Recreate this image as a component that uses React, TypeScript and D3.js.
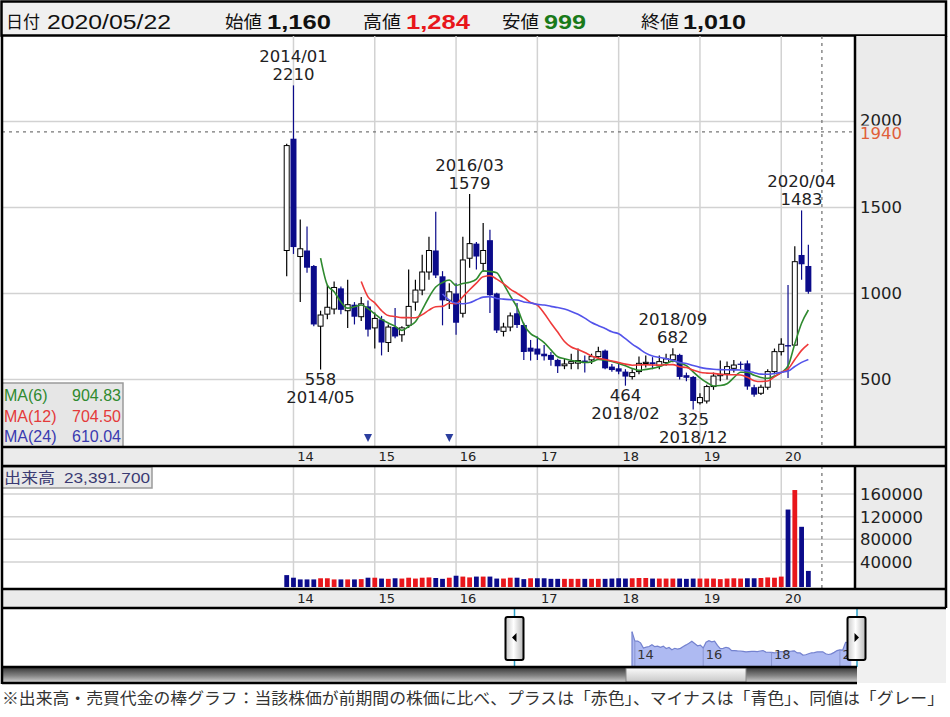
import React from "react";
import * as d3 from "d3";

// ---------- DATA ----------
const months = [
  "2013/12",
  "2014/01","2014/02","2014/03","2014/04","2014/05","2014/06","2014/07","2014/08","2014/09","2014/10","2014/11","2014/12",
  "2015/01","2015/02","2015/03","2015/04","2015/05","2015/06","2015/07","2015/08","2015/09","2015/10","2015/11","2015/12",
  "2016/01","2016/02","2016/03","2016/04","2016/05","2016/06","2016/07","2016/08","2016/09","2016/10","2016/11","2016/12",
  "2017/01","2017/02","2017/03","2017/04","2017/05","2017/06","2017/07","2017/08","2017/09","2017/10","2017/11","2017/12",
  "2018/01","2018/02","2018/03","2018/04","2018/05","2018/06","2018/07","2018/08","2018/09","2018/10","2018/11","2018/12",
  "2019/01","2019/02","2019/03","2019/04","2019/05","2019/06","2019/07","2019/08","2019/09","2019/10","2019/11","2019/12",
  "2020/01","2020/02","2020/03","2020/04","2020/05",
];
const opens = [
  1250,
  1900,1215,1250,1160,810,880,910,1030,900,935,865,925,
  800,850,715,805,760,815,950,1020,1125,1250,1100,960,
  1000,885,1205,1290,1175,1310,1000,780,805,885,817,685,
  680,650,643,614,580,594,595,610,614,633,668,575,
  565,546,517,546,594,600,580,598,615,643,525,515,
  365,375,459,522,533,565,592,594,455,420,455,546,
  662,700,700,1224,1160,
];
const highs = [
  1870,
  2210,1430,1390,1165,900,1050,1070,1040,1080,950,980,960,
  890,870,820,915,810,1140,1080,1225,1330,1475,1130,1060,
  1060,1330,1579,1300,1410,1370,1005,830,890,945,830,730,
  750,700,660,620,620,650,680,640,650,690,675,590,
  590,560,560,633,640,630,640,650,682,650,540,520,
  420,470,540,610,604,614,605,610,470,470,560,680,
  740,1050,1275,1483,1284,
];
const lows = [
  1100,
  1230,950,1120,810,558,850,880,880,800,820,840,750,
  680,640,660,740,720,800,900,990,1080,1090,815,910,
  760,860,1150,1140,1127,887,770,750,780,800,614,610,
  614,610,580,538,560,560,560,540,590,615,560,545,
  530,464,500,530,570,560,560,580,600,500,490,325,
  355,360,440,490,500,540,560,440,400,410,440,530,
  640,508,695,1080,999,
];
const closes = [
  1860,
  1270,1260,1150,820,875,920,1035,905,935,865,940,790,
  855,715,805,750,800,925,1020,1125,1250,1105,960,1010,
  830,1195,1290,1215,1250,990,785,805,870,817,660,662,
  645,635,614,577,590,604,610,600,633,662,565,555,
  546,517,540,594,600,590,604,620,643,515,510,375,
  395,459,520,530,575,584,585,459,412,455,546,662,
  705,692,1185,1170,1010,
];
const volumes = [
  16600,
  12000,9000,9000,9000,11000,11000,9000,9000,9000,9000,9500,12000,
  12000,10500,10000,11000,10500,12000,10500,12000,12500,11500,10000,12000,
  15500,14000,12500,14000,14000,14000,10500,10500,12000,12000,9500,11000,
  11000,11000,10000,10000,10000,10000,10000,10000,10000,10000,10000,10500,
  11000,10500,11000,11500,11500,10500,10500,10500,10500,10500,10000,10500,
  10500,10500,10500,9500,10500,11000,10500,11000,11000,11500,12500,12000,
  14000,132500,167000,102000,24000,
];
const futureMonths = ["2020/06", "2020/07"];
const yearTickMonths = ["2014/01","2015/01","2016/01","2017/01","2018/01","2019/01","2020/01"];
const yearTickLabels = ["14","15","16","17","18","19","20"];
const navTickMonths = ["2014/01","2016/01","2018/01","2020/01"];
const navTickLabels = ["14","16","18","20"];
const priceTicks = [500, 1000, 1500, 2000];
const volumeTicks = [40000, 80000, 120000, 160000];
const referencePrice = 1940;
const cursorMonth = "2020/07";
const eventMonths = ["2014/12", "2015/12"];
const maPeriods = [6, 12, 24];
const maNames = ["MA(6)", "MA(12)", "MA(24)"];
const maValues = ["904.83", "704.50", "610.04"];
const annotations = [
  { month: "2014/01", value: 2210, kind: "high" },
  { month: "2014/05", value: 558, kind: "low" },
  { month: "2016/03", value: 1579, kind: "high" },
  { month: "2018/02", value: 464, kind: "low" },
  { month: "2018/09", value: 682, kind: "high" },
  { month: "2018/12", value: 325, kind: "low" },
  { month: "2020/04", value: 1483, kind: "high" },
];
const headerDate = "2020/05/22";
const headerOpen = "1,160";
const headerHigh = "1,284";
const headerLow = "999";
const headerClose = "1,010";
const totalVolumeText = "23,391.700";
const footnote =
  "※出来高・売買代金の棒グラフ：当該株価が前期間の株価に比べ、プラスは「赤色」、マイナスは「青色」、同値は「グレー」";

// ---------- STYLE ----------
const NAVY = "#0b0b8a";
const UPRED = "#e8161b";
const GRID = "#d2d2d2";
const PANEL = "#ebebeb";
const MA_COLORS = ["#2f8a2f", "#ef3a3a", "#5353ea"];
const MA_TEXT = ["#2f8a2f", "#e43a3a", "#3a3ab0"];
const NUMFONT = "'DejaVu Sans', sans-serif";
const JPFONT = "'Noto Sans CJK JP', sans-serif";
const LATIN = "'Liberation Sans', Arial, sans-serif";

export default function App() {
  const xDomain = [...months, ...futureMonths];
  const x = d3.scalePoint<string>().domain(xDomain).range([286.7, 821.9]);
  const y = d3.scaleLinear().domain([500, 2000]).range([379.5, 121.5]);
  const yv = d3.scaleLinear().domain([0, 160000]).range([584.5, 494]);
  const navX = d3.scalePoint<string>().domain(xDomain).range([632, 857]);
  const navY = d3.scaleLinear().domain([0, 1900]).range([661, 631]);

  const L = 2, R = 855, RE = 946;
  const pTop = 36, pBot = 447, vTop = 466, vBot = 589, nTop = 608, nBot = 667, sBot = 683;

  const ma = (n: number) =>
    closes.map((_, i) => (i < n - 1 ? null : (d3.mean(closes.slice(i - n + 1, i + 1)) as number)));
  const maLine = d3
    .line<number | null>()
    .defined((d) => d != null)
    .x((_, i) => x(months[i]) as number)
    .y((d) => y(d as number))
    .curve(d3.curveMonotoneX);

  const navArea = d3
    .area<number>()
    .x((_, i) => navX(months[i]) as number)
    .y0(666)
    .y1((d) => navY(d));
  const navLine = d3
    .line<number>()
    .x((_, i) => navX(months[i]) as number)
    .y((d) => navY(d));

  const bw = 6;
  const vbw = 4.8;

  const thick = { stroke: "#000", strokeWidth: 2.5 };

  return (
    <div style={{ position: "absolute", left: 0, top: 0 }}>
      <svg width={950} height={717} style={{ display: "block", background: "#fff" }}>
        <defs>
          <clipPath id="pclip">
            <rect x={L} y={pTop} width={R - L} height={pBot - pTop} />
          </clipPath>
          <clipPath id="nclip">
            <rect x={L} y={nTop} width={857 - L} height={nBot - nTop} />
          </clipPath>
          <linearGradient id="track" x1="0" y1="0" x2="0" y2="1">
            <stop offset="0" stopColor="#333" />
            <stop offset="0.55" stopColor="#858585" />
            <stop offset="1" stopColor="#d8d8d8" />
          </linearGradient>
          <linearGradient id="thumb" x1="0" y1="0" x2="0" y2="1">
            <stop offset="0" stopColor="#fafafa" />
            <stop offset="1" stopColor="#c8c8c8" />
          </linearGradient>
          <linearGradient id="handle" x1="0" y1="0" x2="1" y2="0">
            <stop offset="0" stopColor="#c8c8c8" />
            <stop offset="0.45" stopColor="#ffffff" />
            <stop offset="1" stopColor="#b8b8b8" />
          </linearGradient>
        </defs>

        {/* Header */}
        <rect x={1.5} y={1.5} width={944.5} height={34} fill="#f0f0f0" stroke="#000" strokeWidth={2.5} />
        <text x={6} y={28} fontFamily={JPFONT} fontSize={17} fill="#111" textLength={34} lengthAdjust="spacingAndGlyphs">日付</text>
        <text x={47} y={29} fontFamily={LATIN} fontSize={21} fill="#111" textLength={124} lengthAdjust="spacingAndGlyphs">{headerDate}</text>
        <text x={225} y={28} fontFamily={JPFONT} fontSize={17} fill="#111" textLength={37} lengthAdjust="spacingAndGlyphs">始値</text>
        <text x={267} y={29} fontFamily={LATIN} fontWeight="bold" fontSize={21} fill="#111" textLength={64} lengthAdjust="spacingAndGlyphs">{headerOpen}</text>
        <text x={363} y={28} fontFamily={JPFONT} fontSize={17} fill="#111" textLength={38} lengthAdjust="spacingAndGlyphs">高値</text>
        <text x={406} y={29} fontFamily={LATIN} fontWeight="bold" fontSize={21} fill={UPRED} textLength={64} lengthAdjust="spacingAndGlyphs">{headerHigh}</text>
        <text x={502} y={28} fontFamily={JPFONT} fontSize={17} fill="#111" textLength={37} lengthAdjust="spacingAndGlyphs">安値</text>
        <text x={544} y={29} fontFamily={LATIN} fontWeight="bold" fontSize={21} fill="#1a7a1a" textLength={42} lengthAdjust="spacingAndGlyphs">{headerLow}</text>
        <text x={641} y={28} fontFamily={JPFONT} fontSize={17} fill="#111" textLength={38} lengthAdjust="spacingAndGlyphs">終値</text>
        <text x={683} y={29} fontFamily={LATIN} fontWeight="bold" fontSize={21} fill="#111" textLength={63} lengthAdjust="spacingAndGlyphs">{headerClose}</text>

        {/* Panel backgrounds */}
        <rect x={R} y={pTop} width={RE - R} height={pBot - pTop} fill={PANEL} />
        <rect x={L} y={pBot} width={RE - L} height={vTop - pBot} fill={PANEL} />
        <rect x={R} y={vTop} width={RE - R} height={vBot - vTop} fill={PANEL} />
        <rect x={L} y={vBot} width={RE - L} height={nTop - vBot} fill={PANEL} />
        <rect x={857} y={nTop} width={RE - 857} height={sBot - nTop} fill="#f0f0f0" />

        {/* Price grid */}
        {priceTicks.map((t) => (
          <line key={"pg" + t} x1={L} x2={R} y1={y(t)} y2={y(t)} stroke={GRID} strokeWidth={1.5} />
        ))}
        {yearTickMonths.map((m) => (
          <line key={"vg" + m} x1={x(m)} x2={x(m)} y1={pTop} y2={pBot} stroke={GRID} strokeWidth={1.5} />
        ))}
        {/* reference & cursor lines */}
        <line x1={L} x2={R} y1={y(referencePrice)} y2={y(referencePrice)} stroke="#777" strokeWidth={1.3} strokeDasharray="3,4" />
        <line x1={x(cursorMonth)} x2={x(cursorMonth)} y1={pTop} y2={pBot} stroke="#777" strokeWidth={1.3} strokeDasharray="3,4" />

        <g clipPath="url(#pclip)">
          {/* candles */}
          {months.map((m, i) => {
            const cx = x(m) as number;
            const o = opens[i], c = closes[i];
            const up = c >= o;
            const col = up ? "#000" : NAVY;
            const top = y(Math.max(o, c));
            const h = Math.max(1.2, Math.abs(y(o) - y(c)));
            return (
              <g key={"c" + m}>
                <line x1={cx} x2={cx} y1={y(highs[i])} y2={y(lows[i])} stroke={col} strokeWidth={1.2} />
                {up ? (
                  <rect x={cx - bw / 2 + 0.5} y={top} width={bw - 1} height={h} fill="#fff" stroke="#000" strokeWidth={1} />
                ) : (
                  <rect x={cx - bw / 2} y={top} width={bw} height={h} fill={NAVY} />
                )}
              </g>
            );
          })}
          {/* moving averages */}
          {maPeriods.map((n, j) => (
            <path key={"ma" + n} d={maLine(ma(n)) || ""} fill="none" stroke={MA_COLORS[j]} strokeWidth={1.6} />
          ))}
          {/* event markers */}
          {eventMonths.map((m) => {
            const cx = x(m) as number;
            return <path key={"ev" + m} d={`M${cx - 4},434 L${cx + 4},434 L${cx},442 Z`} fill="#2b3e9e" />;
          })}
        </g>

        {/* annotations */}
        {annotations.map((a) => {
          const cx = x(a.month) as number;
          const yy = y(a.value);
          const lines = a.kind === "high" ? [a.month, String(a.value)] : [String(a.value), a.month];
          const b0 = a.kind === "high" ? yy - 5 - 18 : yy + 15;
          return (
            <g key={"an" + a.month}>
              {lines.map((t, k) => (
                <text key={k} x={cx} y={b0 + k * 18} textAnchor="middle" fontFamily={NUMFONT} fontSize={16.5} fill="#222">
                  {t}
                </text>
              ))}
            </g>
          );
        })}

        {/* right price axis */}
        {priceTicks.map((t) => (
          <text key={"pt" + t} x={860} y={t === 2000 ? y(t) - 1 : y(t)} dy="0.36em" fontFamily={NUMFONT} fontSize={16.5} fill="#222">
            {t}
          </text>
        ))}
        <rect x={857} y={125.5} width={60} height={16} fill={PANEL} />
        <text x={860} y={y(referencePrice) + 1.5} dy="0.36em" fontFamily={NUMFONT} fontSize={16.5} fill="#e0603a">
          {referencePrice}
        </text>

        {/* MA legend */}
        <rect x={L} y={383} width={121} height={64} fill="#e6e6e6" stroke="#9a9a9a" strokeWidth={1.5} />
        {maNames.map((nm, j) => (
          <g key={"lg" + nm}>
            <text x={4} y={401 + j * 20.5} fontFamily={LATIN} fontSize={16} fill={MA_TEXT[j]}>{nm}</text>
            <text x={121} y={401 + j * 20.5} textAnchor="end" fontFamily={LATIN} fontSize={16} fill={MA_TEXT[j]}>{maValues[j]}</text>
          </g>
        ))}

        {/* x axis band 1 */}
        {yearTickMonths.map((m, j) => (
          <text key={"xa" + m} x={(x(m) as number) + 12} y={456} dy="0.36em" textAnchor="middle" fontFamily={NUMFONT} fontSize={13} fill="#222">
            {yearTickLabels[j]}
          </text>
        ))}

        {/* Volume panel */}
        {volumeTicks.map((t) => (
          <line key={"vgl" + t} x1={L} x2={R} y1={yv(t)} y2={yv(t)} stroke={GRID} strokeWidth={1.5} />
        ))}
        {yearTickMonths.map((m) => (
          <line key={"vvg" + m} x1={x(m)} x2={x(m)} y1={vTop} y2={vBot} stroke={GRID} strokeWidth={1.5} />
        ))}
        <line x1={x(cursorMonth)} x2={x(cursorMonth)} y1={vTop} y2={vBot} stroke="#777" strokeWidth={1.3} strokeDasharray="3,4" />
        {months.map((m, i) => {
          const cx = x(m) as number;
          const prev = i > 0 ? closes[i - 1] : closes[i] + 1;
          const col = closes[i] > prev ? UPRED : closes[i] < prev ? NAVY : "#999";
          return <rect key={"v" + m} x={cx - vbw / 2} y={yv(volumes[i])} width={vbw} height={587 - yv(volumes[i])} fill={col} />;
        })}
        {volumeTicks.map((t) => (
          <text key={"vt" + t} x={860} y={yv(t)} dy="0.36em" fontFamily={NUMFONT} fontSize={16.5} fill="#222">
            {t}
          </text>
        ))}
        <rect x={L} y={467} width={150} height={21} fill="#e8e8e8" stroke="#9a9a9a" strokeWidth={1.5} />
        <text x={4} y={483} fontFamily={JPFONT} fontSize={15} fill="#3a3a72" textLength={51} lengthAdjust="spacingAndGlyphs">出来高</text>
        <text x={64} y={483} fontFamily={LATIN} fontSize={15} fill="#3a3a72" textLength={86} lengthAdjust="spacingAndGlyphs">{totalVolumeText}</text>

        {/* x axis band 2 */}
        {yearTickMonths.map((m, j) => (
          <text key={"xb" + m} x={(x(m) as number) + 12} y={598} dy="0.36em" textAnchor="middle" fontFamily={NUMFONT} fontSize={13} fill="#222">
            {yearTickLabels[j]}
          </text>
        ))}

        {/* Navigator */}
        <g clipPath="url(#nclip)">
          <path d={navArea(closes) || ""} fill="#aebaf2" stroke="none" />
          <path d={navLine(closes) || ""} fill="none" stroke="#7482cf" strokeWidth={1.2} />
          <line x1={navX(months[0])} x2={navX(months[0])} y1={navY(closes[0])} y2={666} stroke="#7482cf" strokeWidth={1.2} />
          {navTickMonths.map((m, j) => {
            const i = months.indexOf(m);
            const nx = navX(m) as number;
            return (
              <g key={"nt" + m}>
                <line x1={nx} x2={nx} y1={navY(closes[i])} y2={666} stroke="#8a95d0" strokeWidth={1} />
                <text x={nx + 2.5} y={659} fontFamily={NUMFONT} fontSize={13} fill="#333">{navTickLabels[j]}</text>
              </g>
            );
          })}
        </g>
        <line x1={514.5} x2={514.5} y1={nTop} y2={nBot} stroke="#2aa0c8" strokeWidth={1.5} />
        <line x1={857} x2={857} y1={nTop} y2={nBot} stroke="#2aa0c8" strokeWidth={1.5} />
        {[514.5, 856.5].map((hx, j) => (
          <g key={"hd" + j}>
            <rect x={hx - 9} y={617} width={18} height={43} rx={2} fill="url(#handle)" stroke="#000" strokeWidth={2} />
            <path
              d={j === 0 ? `M${hx + 2},633 L${hx + 2},642 L${hx - 2.5},637.5 Z` : `M${hx - 2},633 L${hx - 2},642 L${hx + 2.5},637.5 Z`}
              fill="#000"
            />
          </g>
        ))}

        {/* Scrollbar */}
        <rect x={L} y={nBot} width={857 - L} height={sBot - nBot} fill="url(#track)" />
        <rect x={626} y={nBot + 1} width={120} height={sBot - nBot - 2} fill="url(#thumb)" stroke="#8a8a8a" strokeWidth={1} />

        {/* Frame lines */}
        <line x1={L} x2={RE} y1={pBot} y2={pBot} {...thick} />
        <line x1={L} x2={RE} y1={vTop} y2={vTop} {...thick} />
        <line x1={L} x2={RE} y1={vBot} y2={vBot} {...thick} />
        <line x1={L} x2={RE} y1={nTop} y2={nTop} {...thick} />
        <line x1={L} x2={857} y1={nBot} y2={nBot} {...thick} />
        <line x1={L} x2={857} y1={sBot} y2={sBot} {...thick} />
        <line x1={L} x2={L} y1={pTop} y2={sBot + 1} {...thick} />
        <line x1={R} x2={R} y1={pTop} y2={pBot} {...thick} />
        <line x1={R} x2={R} y1={vTop} y2={vBot} {...thick} />
        <line x1={RE} x2={RE} y1={pTop} y2={nTop} {...thick} />

        {/* Footnote */}
        <text x={2} y={704} fontFamily={JPFONT} fontSize={16} fill="#333" textLength={942} lengthAdjust="spacingAndGlyphs">
          {footnote}
        </text>
      </svg>
    </div>
  );
}
